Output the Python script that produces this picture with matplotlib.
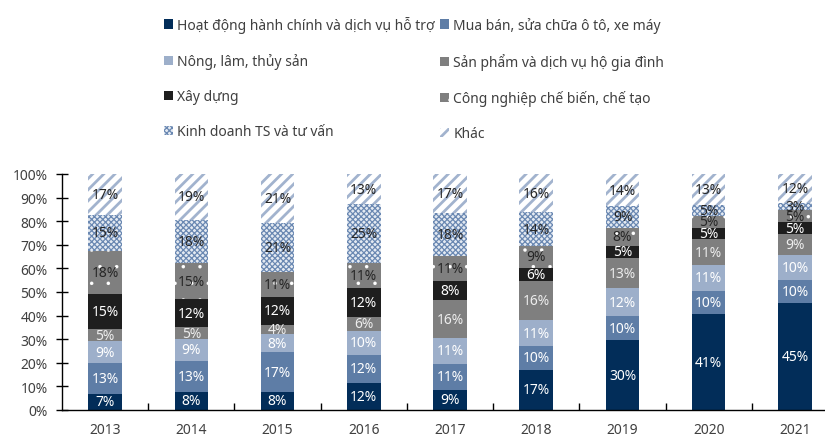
import numpy as np
import matplotlib.pyplot as plt
from matplotlib.ticker import PercentFormatter

plt.rcParams['font.family'] = ['Noto Sans', 'DejaVu Sans']
plt.rcParams['hatch.linewidth'] = 1.0

# share of FDI by sector (%), bottom to top
years = ['2013', '2014', '2015', '2016', '2017', '2018', '2019', '2020', '2021']
hanh_chinh = [6.8, 7.8, 7.8, 11.6, 8.6, 17.1, 29.6, 40.6, 45.2]
mua_ban = [13.1, 13.1, 16.6, 11.9, 11.1, 9.9, 10.1, 9.9, 10.0]
nong_lam = [9.3, 9.2, 7.8, 10.0, 10.9, 11.1, 11.8, 10.9, 10.4]
san_pham = [5.1, 4.9, 4.0, 6.0, 15.8, 16.4, 13.0, 11.0, 8.9]
xay_dung = [15.0, 12.0, 11.8, 12.0, 8.1, 5.8, 4.9, 4.9, 5.2]
cong_nghiep = [18.1, 15.3, 10.6, 10.8, 10.6, 9.1, 7.9, 4.8, 4.9]
kinh_doanh = [15.2, 18.3, 20.7, 24.8, 18.3, 14.4, 9.1, 4.7, 3.3]
khac = [17.4, 19.4, 20.7, 12.9, 16.6, 16.2, 13.6, 13.2, 12.1]

# (values, label, face, hatch, hatch colour, hatch lw, text colour)
series = [
    (hanh_chinh, 'Hoạt động hành chính và dịch vụ hỗ trợ', '#022D59', None, '#022D59', 1.0, 'white'),
    (mua_ban, 'Mua bán, sửa chữa ô tô, xe máy', '#5E7DA6', None, '#5E7DA6', 1.0, 'white'),
    (nong_lam, 'Nông, lâm, thủy sản', '#9DAFCA', None, '#9DAFCA', 1.0, 'white'),
    (san_pham, 'Sản phẩm và dịch vụ hộ gia đình', '#7F7F7F', None, '#7F7F7F', 1.0, '#EDEDED'),
    (xay_dung, 'Xây dựng', '#1E1E1E', None, '#1E1E1E', 1.0, 'white'),
    (cong_nghiep, 'Công nghiệp chế biến, chế tạo', '#7F7F7F', '.', 'white', 0.1, '#262626'),
    (kinh_doanh, 'Kinh doanh TS và tư vấn', '#E4EAF2', 'xxxxxx', '#6A88B2', 0.9, '#262626'),
    (khac, 'Khác', 'white', '///', '#A2B3CE', 2.0, '#262626'),
]

fig = plt.figure(figsize=(8.25, 4.39), dpi=100)
ax = fig.add_axes([62 / 825, 28 / 439, 776 / 825, 236 / 439])

x = np.arange(len(years))
bottom = np.zeros(len(years))
containers = []
for vals, label, fc, hatch, hc, hlw, tc in series:
    vals = np.array(vals)
    bars = ax.bar(x, vals, 0.39, bottom=bottom, color=fc, edgecolor=hc,
                  linewidth=0, hatch=hatch, label=label)
    for rect in bars:
        if hatch and hasattr(rect, 'set_hatch_linewidth'):
            rect.set_hatch_linewidth(hlw)
    ax.bar_label(bars, labels=[f'{v:.0f}%' for v in vals], label_type='center',
                 color=tc, fontsize=10)
    containers.append(bars)
    bottom += vals

ax.set_xlim(-0.5, 8.5)
ax.set_ylim(0, 100)
ax.yaxis.set_major_formatter(PercentFormatter(decimals=0))
ax.set_yticks(np.arange(0, 101, 10))
ax.set_xticks(x)
ax.set_xticklabels(years)
ax.set_xticks(np.arange(0.5, 8, 1), minor=True)
ax.tick_params(axis='x', which='major', length=0, pad=9, labelsize=10, labelcolor='#404040')
ax.tick_params(axis='x', which='minor', direction='in', length=5, width=1)
ax.tick_params(axis='y', direction='inout', length=9, width=1, pad=6, labelsize=10, labelcolor='#404040')
for side in ['top', 'right']:
    ax.spines[side].set_visible(False)
for side in ['left', 'bottom']:
    ax.spines[side].set_linewidth(1)

order = [0, 2, 4, 6, 1, 3, 5, 7]
leg = fig.legend([containers[i] for i in order], [series[i][1] for i in order],
                 loc='upper left', bbox_to_anchor=(164 / 825, 1 - 17 / 439), ncol=2,
                 frameon=False, fontsize=10, labelcolor='#404040',
                 handlelength=0.65, handleheight=0.65, handletextpad=0.3,
                 labelspacing=1.45, columnspacing=0.4, borderpad=0, borderaxespad=0)
for h, i in zip(leg.legend_handles, order):
    if series[i][3] and hasattr(h, 'set_hatch_linewidth'):
        h.set_hatch_linewidth(series[i][5])

plt.savefig('out.png', dpi=100)
